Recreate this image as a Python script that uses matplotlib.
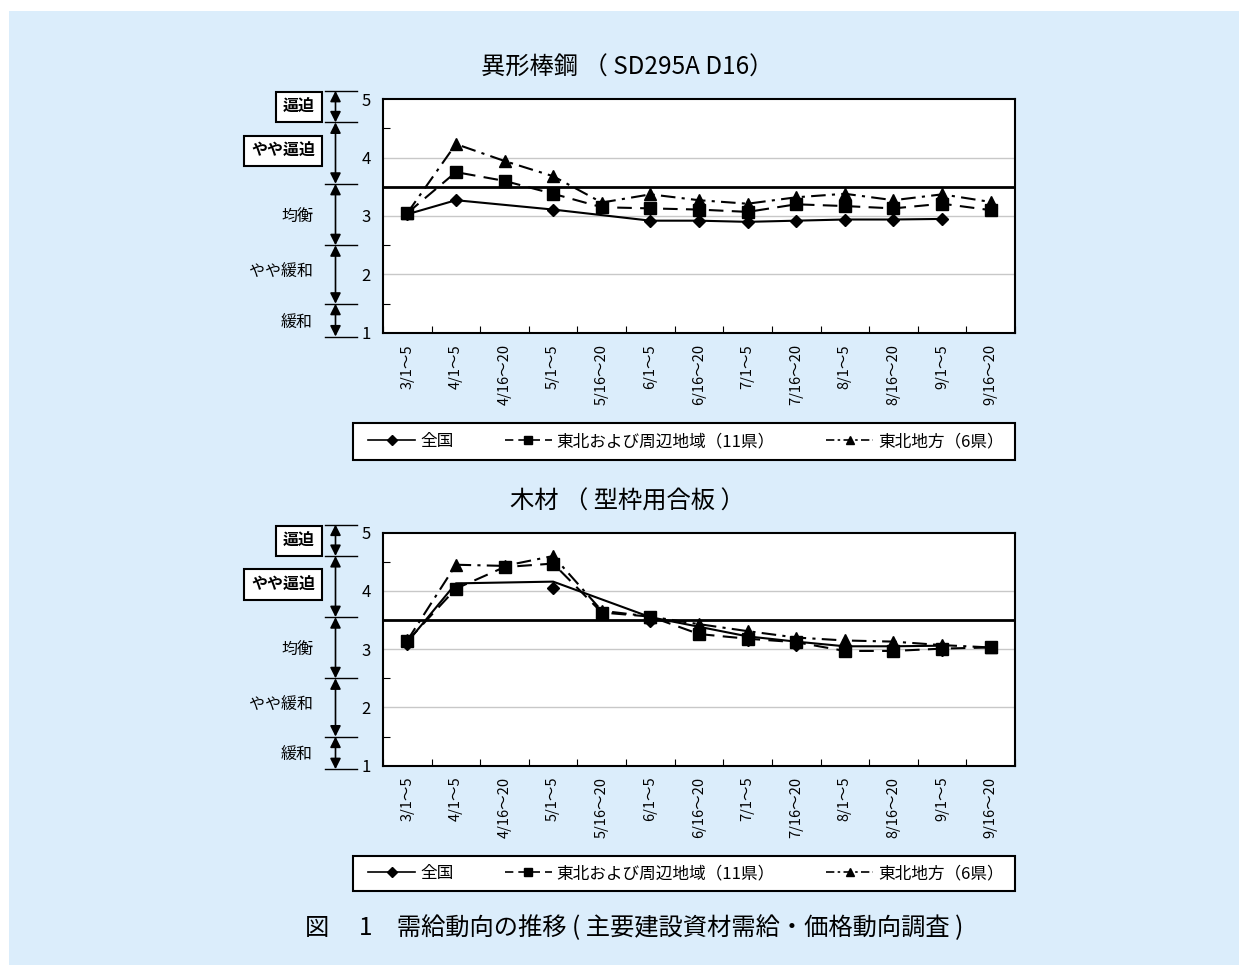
import numpy as np
import matplotlib
matplotlib.use('Agg')
import matplotlib.pyplot as plt
from matplotlib.patches import Rectangle

plt.rcParams['font.family'] = ['Noto Sans CJK JP', 'DejaVu Sans']

W, H = 1248, 974
nan = np.nan

periods = ['3/1～5', '4/1～5', '4/16～20', '5/1～5', '5/16～20', '6/1～5', '6/16～20',
           '7/1～5', '7/16～20', '8/1～5', '8/16～20', '9/1～5', '9/16～20']
names = ['全国', '東北および周辺地域（11県）', '東北地方（6県）']

# 異形棒鋼
rebar_national = [3.03, 3.27, nan, 3.11, nan, 2.92, 2.92, 2.90, 2.92, 2.94, 2.94, 2.95, nan]
rebar_tohoku11 = [3.05, 3.75, 3.60, 3.38, 3.15, 3.13, 3.11, 3.07, 3.20, 3.17, 3.13, 3.21, 3.10]
rebar_tohoku6 = [3.05, 4.23, 3.94, 3.68, 3.23, 3.37, 3.27, 3.21, 3.32, 3.38, 3.27, 3.37, 3.24]

# 木材（型枠用合板）: 全国は線と点が一致しない
wood_national_line = [3.12, 4.13, nan, 4.16, nan, 3.55, nan, 3.22, 3.13, 3.05, 3.05, 3.06, nan]
wood_national_pts = [3.09, 4.04, nan, 4.05, nan, 3.48, nan, 3.15, 3.08, 2.97, 2.97, 2.99, nan]
wood_tohoku11 = [3.14, 4.04, 4.41, 4.47, 3.63, 3.56, 3.26, 3.18, 3.12, 2.97, 2.97, 3.01, 3.03]
wood_tohoku6 = [3.15, 4.45, 4.43, 4.60, 3.66, 3.56, 3.43, 3.31, 3.20, 3.15, 3.13, 3.07, 3.03]

# 左側の区分
zone_edges = [5.14, 4.6, 3.55, 2.5, 1.5, 0.94]
zone_labels = ['逼迫', 'やや逼迫', '均衡', 'やや緩和', '緩和']
zone_label_y = [4.86, 4.11, 3.0, 2.04, 1.17]
zone_boxed = [True, True, False, False, False]
balance_line = 3.5


def rect(x0, y0, x1, y1):
    return [x0 / W, 1 - y1 / H, (x1 - x0) / W, (y1 - y0) / H]


def plot_gapped(ax, vals, **kw):
    v = np.asarray(vals, dtype=float)
    idx = np.where(np.isfinite(v))[0]
    return ax.plot(idx, v[idx], **kw)


fig = plt.figure(figsize=(W / 100, H / 100), dpi=100, facecolor='white')
fig.patches.append(Rectangle((9 / W, 1 - 965 / H), (1239 - 9) / W, (965 - 11) / H,
                             transform=fig.transFigure, facecolor='#dbedfb',
                             edgecolor='none', zorder=-10))


def panel(top, bottom, title, nat_line, nat_pts, t11, t6, leg_top, leg_bot):
    ax = fig.add_axes(rect(383, top, 1015, bottom))
    x = np.arange(len(periods))
    ax.set_xlim(-0.5, len(periods) - 0.5)
    ax.set_ylim(1, 5)
    ax.set_facecolor('white')

    for g in [2, 3, 4]:
        ax.axhline(g, color='#c8c8c8', lw=1, zorder=1)
    ax.axhline(balance_line, color='black', lw=2, zorder=2)

    plot_gapped(ax, nat_line, color='black', lw=1.5, zorder=3)
    plot_gapped(ax, nat_pts, color='black', lw=0, marker='D', ms=6, zorder=4)
    plot_gapped(ax, t11, color='black', lw=1.5, ls=(0, (7, 4)), marker='s', ms=8, zorder=4)
    plot_gapped(ax, t6, color='black', lw=1.5, ls=(0, (7, 3, 1.5, 3)), marker='^', ms=8, zorder=4)

    ax.set_yticks([1, 2, 3, 4, 5])
    ax.set_yticks([1.5, 2.5, 3.5, 4.5], minor=True)
    ax.tick_params(axis='y', which='major', length=0, pad=9, labelsize=12)
    ax.tick_params(axis='y', which='minor', length=5, direction='in', width=0.8)
    ax.set_xticks(x)
    ax.set_xticklabels(periods, rotation=90, fontsize=10.5)
    ax.set_xticks(np.arange(len(periods) + 1) - 0.5, minor=True)
    ax.tick_params(axis='x', which='major', length=0, pad=8)
    ax.tick_params(axis='x', which='minor', length=5, direction='in', width=0.8)
    for s in ax.spines.values():
        s.set_linewidth(1.5)

    fig.text(627 / W, 1 - (top - 31) / H, title, ha='center', va='center', fontsize=17.5)

    # 需給の区分（左側の矢印）
    side = fig.add_axes(rect(240, top, 365, bottom))
    side.set_xlim(240, 365)
    side.set_ylim(1, 5)
    side.axis('off')
    for e in zone_edges:
        side.plot([325, 357], [e, e], color='black', lw=1, clip_on=False)
    for a, b in zip(zone_edges[:-1], zone_edges[1:]):
        side.annotate('', xy=(335.5, b), xytext=(335.5, a), xycoords='data',
                      arrowprops=dict(arrowstyle='<|-|>', color='black', lw=1.2,
                                      mutation_scale=16, shrinkA=0, shrinkB=0),
                      annotation_clip=False)
    for lab, yv, boxed in zip(zone_labels, zone_label_y, zone_boxed):
        if boxed:
            side.text(315, yv, lab, ha='right', va='center', fontsize=11.5,
                      fontweight='bold', clip_on=False,
                      bbox=dict(boxstyle='square,pad=0.45', facecolor='white',
                                edgecolor='black', lw=1.5))
        else:
            side.text(313, yv, lab, ha='right', va='center', fontsize=11.5, clip_on=False)

    # 凡例の枠
    fig.patches.append(Rectangle((353 / W, 1 - leg_bot / H), (1015 - 353) / W,
                                 (leg_bot - leg_top) / H, transform=fig.transFigure,
                                 facecolor='white', edgecolor='black', lw=1.5, zorder=-5))
    handles = [
        plt.Line2D([], [], color='black', lw=1.2, marker='D', ms=5),
        plt.Line2D([], [], color='black', lw=1.2, ls=(0, (5, 3)), marker='s', ms=6),
        plt.Line2D([], [], color='black', lw=1.2, ls=(0, (5, 2, 1.5, 2)), marker='^', ms=6),
    ]
    ax.legend(handles, names, loc='center', ncol=3, fontsize=12,
              bbox_to_anchor=(686 / W, 1 - (leg_top + leg_bot) / 2 / H),
              bbox_transform=fig.transFigure, frameon=False,
              handlelength=2.8, handletextpad=0.3, columnspacing=3.1,
              borderaxespad=0, borderpad=0)
    return ax


panel(99, 333, '異形棒鋼 （ SD295A D16）', rebar_national, rebar_national,
      rebar_tohoku11, rebar_tohoku6, 423, 460)
panel(532.7, 765.7, '木材 （ 型枠用合板 ）', wood_national_line, wood_national_pts,
      wood_tohoku11, wood_tohoku6, 856, 891)

fig.text(634 / W, 1 - 928 / H, '図　 1　需給動向の推移 ( 主要建設資材需給・価格動向調査 )',
         ha='center', va='center', fontsize=17.5)

fig.savefig('out.png', dpi=100, facecolor=fig.get_facecolor())
